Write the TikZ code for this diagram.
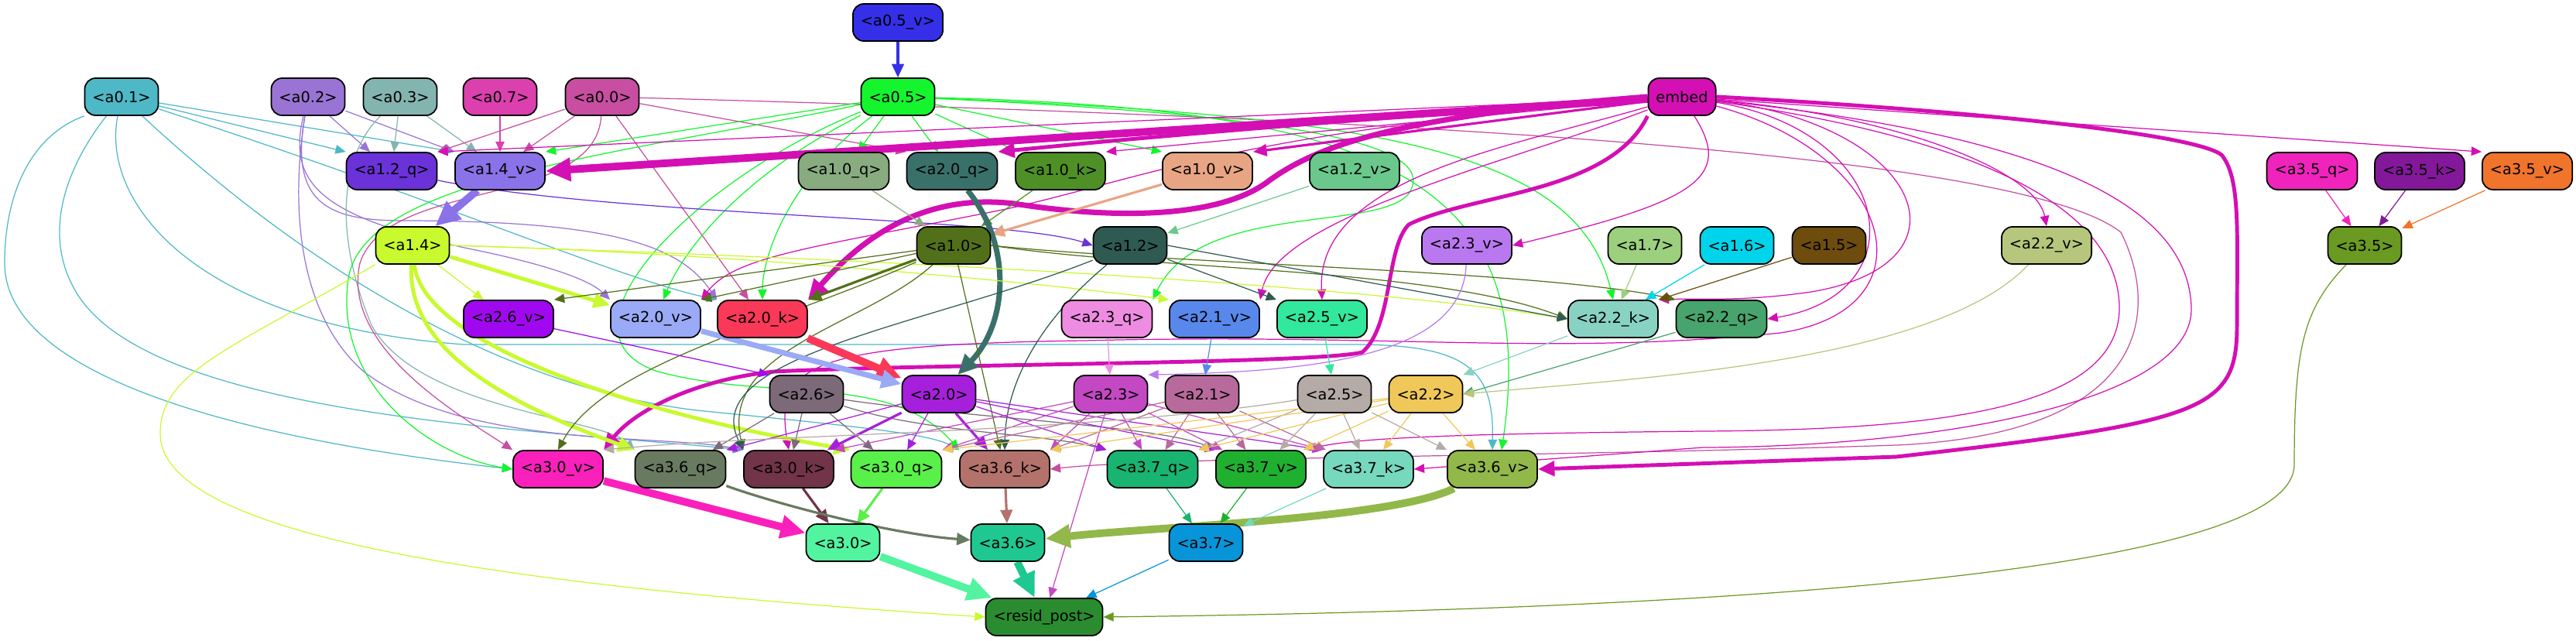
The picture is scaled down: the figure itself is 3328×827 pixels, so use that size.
\documentclass[tikz,border=0pt]{standalone}
\usepackage{fontspec}
\setmainfont{DejaVu Sans}
\usetikzlibrary{arrows.meta}
\pgfdeclarelayer{background}
\pgfsetlayers{background,main}

\definecolor{c05v}{HTML}{3530E8}
\definecolor{c01}{HTML}{4EB8C6}
\definecolor{c02}{HTML}{9A74D4}
\definecolor{c03}{HTML}{84B4B0}
\definecolor{c07}{HTML}{DC40AE}
\definecolor{c00}{HTML}{C74EA0}
\definecolor{c05}{HTML}{14F52E}
\definecolor{cemb}{HTML}{D40FB4}
\definecolor{c12q}{HTML}{6A32D8}
\definecolor{c14v}{HTML}{8A72E8}
\definecolor{c10q}{HTML}{88AC80}
\definecolor{c20q}{HTML}{3A706A}
\definecolor{c10k}{HTML}{4E9026}
\definecolor{c10v}{HTML}{E8A584}
\definecolor{c12v}{HTML}{6AC88C}
\definecolor{c35q}{HTML}{F024BC}
\definecolor{c35k}{HTML}{84189A}
\definecolor{c35v}{HTML}{F0742C}
\definecolor{c14}{HTML}{C8FA2E}
\definecolor{c10}{HTML}{52701A}
\definecolor{c12}{HTML}{2E5A52}
\definecolor{c23v}{HTML}{BA78F0}
\definecolor{c17}{HTML}{9CCF7E}
\definecolor{c16}{HTML}{00D4EA}
\definecolor{c15}{HTML}{6E4C0E}
\definecolor{c22v}{HTML}{B6C67C}
\definecolor{c35}{HTML}{6A9A22}
\definecolor{c26v}{HTML}{A008F0}
\definecolor{c20v}{HTML}{9AAAF6}
\definecolor{c20k}{HTML}{FA3858}
\definecolor{c23q}{HTML}{EE8CE2}
\definecolor{c21v}{HTML}{5888EC}
\definecolor{c25v}{HTML}{32E89C}
\definecolor{c22k}{HTML}{88D2C4}
\definecolor{c22q}{HTML}{46A46C}
\definecolor{c26}{HTML}{7C6A78}
\definecolor{c20}{HTML}{A620DC}
\definecolor{c23}{HTML}{C448C4}
\definecolor{c21}{HTML}{B86A9C}
\definecolor{c25}{HTML}{B4AAA6}
\definecolor{c22}{HTML}{F0C85A}
\definecolor{c30v}{HTML}{FA20BC}
\definecolor{c36q}{HTML}{687A60}
\definecolor{c30k}{HTML}{723448}
\definecolor{c30q}{HTML}{5AF04A}
\definecolor{c36k}{HTML}{B4726C}
\definecolor{c37q}{HTML}{18B470}
\definecolor{c37v}{HTML}{20B030}
\definecolor{c37k}{HTML}{76D8BC}
\definecolor{c36v}{HTML}{92B84A}
\definecolor{c30}{HTML}{52F4A0}
\definecolor{c36}{HTML}{1EC890}
\definecolor{c37}{HTML}{0894D8}
\definecolor{cres}{HTML}{2A8C2E}

\begin{document}
\begin{tikzpicture}[x=0.01cm,y=-0.01cm,every node/.style={font=\fontsize{5.5}{6.5}\selectfont},
    blk/.style={draw,line width=0.5pt,rounded corners=4pt,minimum height=0.48cm,inner xsep=0.1cm,inner ysep=0pt},
    lnk/.style={-{Triangle[length=3pt 2.2,width=2.6pt 2]},line width=0.35pt},
    lwa/.style={line width=0.9pt},lwb/.style={line width=1.4pt},
    lwc/.style={line width=2pt},lwd/.style={line width=2.8pt}]
                \useasboundingbox (0,0) rectangle (3328,827);
                % inputs
                \node[blk,fill=c05v] (a05v) at (1160,29) {<a0.5\_v>};
                \node[blk,fill=c01] (a01) at (157,125) {<a0.1>};
                \node[blk,fill=c02] (a02) at (398,125) {<a0.2>};
                \node[blk,fill=c03] (a03) at (517,125) {<a0.3>};
                \node[blk,fill=c07] (a07) at (646,125) {<a0.7>};
                \node[blk,fill=c00] (a00) at (778,125) {<a0.0>};
                \node[blk,fill=c05] (a05) at (1160,125) {<a0.5>};
                \node[blk,fill=cemb] (embed) at (2173,125) {embed};
                % layer 1
                \node[blk,fill=c12q] (a12q) at (506,221) {<a1.2\_q>};
                \node[blk,fill=c14v] (a14v) at (646,221) {<a1.4\_v>};
                \node[blk,fill=c10q] (a10q) at (1090,221) {<a1.0\_q>};
                \node[blk,fill=c20q] (a20q) at (1230,221) {<a2.0\_q>};
                \node[blk,fill=c10k] (a10k) at (1370,221) {<a1.0\_k>};
                \node[blk,fill=c10v] (a10v) at (1560,221) {<a1.0\_v>};
                \node[blk,fill=c12v] (a12v) at (1750,221) {<a1.2\_v>};
                \node[blk,fill=c35q] (a35q) at (2987,221) {<a3.5\_q>};
                \node[blk,fill=c35k] (a35k) at (3126,221) {<a3.5\_k>};
                \node[blk,fill=c35v] (a35v) at (3265,221) {<a3.5\_v>};
                \node[blk,fill=c14] (a14) at (533,317) {<a1.4>};
                \node[blk,fill=c10] (a10) at (1232,317) {<a1.0>};
                \node[blk,fill=c12] (a12) at (1460,317) {<a1.2>};
                \node[blk,fill=c23v] (a23v) at (1895,317) {<a2.3\_v>};
                \node[blk,fill=c17] (a17) at (2125,317) {<a1.7>};
                \node[blk,fill=c16] (a16) at (2244,317) {<a1.6>};
                \node[blk,fill=c15] (a15) at (2363,317) {<a1.5>};
                \node[blk,fill=c22v] (a22v) at (2644,317) {<a2.2\_v>};
                \node[blk,fill=c35] (a35) at (3055,317) {<a3.5>};
                % layer 2
                \node[blk,fill=c26v] (a26v) at (657,412) {<a2.6\_v>};
                \node[blk,fill=c20v] (a20v) at (847,412) {<a2.0\_v>};
                \node[blk,fill=c20k] (a20k) at (985,412) {<a2.0\_k>};
                \node[blk,fill=c23q] (a23q) at (1430,412) {<a2.3\_q>};
                \node[blk,fill=c21v] (a21v) at (1569,412) {<a2.1\_v>};
                \node[blk,fill=c25v] (a25v) at (1708,412) {<a2.5\_v>};
                \node[blk,fill=c22k] (a22k) at (2084,412) {<a2.2\_k>};
                \node[blk,fill=c22q] (a22q) at (2224,412) {<a2.2\_q>};
                \node[blk,fill=c26] (a26) at (1042,509) {<a2.6>};
                \node[blk,fill=c20] (a20) at (1213,509) {<a2.0>};
                \node[blk,fill=c23] (a23) at (1435,509) {<a2.3>};
                \node[blk,fill=c21] (a21) at (1553,509) {<a2.1>};
                \node[blk,fill=c25] (a25) at (1724,509) {<a2.5>};
                \node[blk,fill=c22] (a22) at (1842,509) {<a2.2>};
                % layer 3
                \node[blk,fill=c30v] (a30v) at (721,606) {<a3.0\_v>};
                \node[blk,fill=c36q] (a36q) at (879,606) {<a3.6\_q>};
                \node[blk,fill=c30k] (a30k) at (1019,606) {<a3.0\_k>};
                \node[blk,fill=c30q] (a30q) at (1158,606) {<a3.0\_q>};
                \node[blk,fill=c36k] (a36k) at (1298,606) {<a3.6\_k>};
                \node[blk,fill=c37q] (a37q) at (1489,606) {<a3.7\_q>};
                \node[blk,fill=c37v] (a37v) at (1629,606) {<a3.7\_v>};
                \node[blk,fill=c37k] (a37k) at (1768,606) {<a3.7\_k>};
                \node[blk,fill=c36v] (a36v) at (1928,606) {<a3.6\_v>};
                \node[blk,fill=c30] (a30) at (1089,701) {<a3.0>};
                \node[blk,fill=c36] (a36) at (1302,701) {<a3.6>};
                \node[blk,fill=c37] (a37) at (1558,701) {<a3.7>};
                \node[blk,fill=cres] (resid) at (1349,797) {<resid\_post>};

                \begin{pgfonlayer}{background}
                % a0.x
                \draw[lnk,lwa,c05v] (a05v) -- (a05);
                \draw[lnk,c01] (a01) -- (a12q.north west);
                \draw[lnk,c01] (a01) -- (a14v.north west);
                \draw[lnk,c01] (a01.south west) .. controls (40,175) and (6,250) .. (6,340) .. controls (6,470) and (250,560) .. (a30v.west);
                \draw[lnk,c01] (a01) .. controls (90,210) and (50,300) .. (100,380) .. controls (200,540) and (700,555) .. (a30k.north west);
                \draw[lnk,c01] (a01) .. controls (130,260) and (250,420) .. (600,445) -- (1750,445) .. controls (1900,445) and (1930,480) .. (a36v.north);
                \draw[lnk,c01] (a01) .. controls (400,350) and (650,500) .. (900,530) .. controls (1100,550) and (1200,560) .. (a36k.north west);
                \draw[lnk,c01] (a01) .. controls (600,270) and (800,360) .. (a20k.north west);
                \draw[lnk,c02] (a02) -- (a12q);
                \draw[lnk,c02] (a02) -- (a14v.north west);
                \draw[lnk,c02] (a02) .. controls (375,260) and (420,285) .. (520,285) .. controls (800,285) and (880,320) .. (a20k.north west);
                \draw[lnk,c02] (a02) .. controls (370,300) and (400,420) .. (470,480) .. controls (600,580) and (850,560) .. (a30k.north west);
                \draw[lnk,c02] (a02) .. controls (370,240) and (420,280) .. (600,320) .. controls (700,340) and (760,360) .. (a20v.north west);
                \draw[lnk,c03] (a03) -- (a12q);
                \draw[lnk,c03] (a03) -- ([xshift=-0.3cm]a14v.north);
                \draw[lnk,c03] (a03) .. controls (440,200) and (430,300) .. (480,420) .. controls (540,530) and (780,540) .. (a36q.north west);
                \draw[lnk,c07] (a07) -- (a14v);
                \draw[lnk,c00] (a00) -- (a12q.north east);
                \draw[lnk,c00] (a00) -- ([xshift=0.3cm]a14v.north);
                \draw[lnk,c00] (a00) -- (a20k);
                \draw[lnk,c00] (a00) -- (a20q.north west);
                \draw[lnk,c00] (a00) .. controls (770,270) and (500,230) .. (465,340) .. controls (440,450) and (600,540) .. (a30v.north west);
                \draw[lnk,c00] (a00) .. controls (1700,150) and (2600,190) .. (2740,300) .. controls (2790,400) and (2780,560) .. (2450,575) .. controls (2000,590) and (1500,590) .. (a36k.east);
                \draw[lnk,c05] (a05) -- (a14v.north east);
                \draw[lnk,c05] (a05) -- (a10q);
                \draw[lnk,c05] (a05) -- (a20q);
                \draw[lnk,c05] (a05) -- (a10k);
                \draw[lnk,c05] (a05) -- (a10v.north west);
                \draw[lnk,c05] (a05) .. controls (950,230) and (880,330) .. (a20v);
                \draw[lnk,c05] (a05) .. controls (1020,230) and (985,330) .. (a20k);
                \draw[lnk,c05] (a05) .. controls (800,200) and (470,230) .. (450,360) .. controls (430,500) and (560,590) .. (a30v.west);
                \draw[lnk,c05] (a05) .. controls (900,230) and (700,430) .. (850,480) .. controls (1000,520) and (1150,480) .. (a36k.north west);
                \draw[lnk,c05] (a05) .. controls (1700,150) and (1860,190) .. (1820,250) .. controls (1780,300) and (1550,260) .. (a23q.north east);
                \draw[lnk,c05] (a05) .. controls (1800,150) and (2040,200) .. (a22k.north);
                \draw[lnk,c05] (a05) .. controls (1800,140) and (1990,240) .. ([xshift=0.12cm]a36v.north);
                % embed
                \draw[lnk,lwd,cemb] (embed) -- (a14v.east);
                \draw[lnk,lwb,cemb] (embed) .. controls (1800,150) and (1500,175) .. (a20q.north east);
                \draw[lnk,lwc,cemb] (embed.west) .. controls (1800,150) and (1700,190) .. (1640,233) .. controls (1580,280) and (1450,285) .. (1310,263) .. controls (1200,250) and (1120,300) .. (a20k.north east);
                \draw[lnk,cemb] (embed) -- (a10k.north east);
                \draw[lnk,lwa,cemb] (embed) -- (a10v.north east);
                \draw[lnk,cemb] (embed) -- (a12q.north east);
                \draw[lnk,cemb] (embed) .. controls (1600,170) and (1480,230) .. (1300,270) .. controls (1050,320) and (950,330) .. (a20v.north east);
                \draw[lnk,lwb,cemb] (embed.south west) .. controls (2080,250) and (1900,250) .. (1820,290) .. controls (1790,320) and (1800,420) .. (1760,455) .. controls (1700,470) and (1200,470) .. (1000,480) .. controls (900,490) and (820,530) .. (a30v.north east);
                \draw[lnk,lwb,cemb] (embed.east) .. controls (2500,140) and (2830,170) .. (2870,200) .. controls (2895,230) and (2890,300) .. (2890,420) .. controls (2890,530) and (2850,545) .. (2450,590) -- (a36v.east);
                \draw[lnk,cemb] (embed) -- (a35v.north west);
                \draw[lnk,cemb] (embed) .. controls (2450,150) and (2630,220) .. (a22v.north);
                \draw[lnk,cemb] (embed) .. controls (2240,230) and (2190,260) .. (a23v.east);
                \draw[lnk,cemb] (embed) .. controls (1950,190) and (1700,230) .. (a25v.north);
                \draw[lnk,cemb] (embed) .. controls (1950,210) and (1650,280) .. (a21v.north east);
                \draw[lnk,cemb] (embed) .. controls (2450,170) and (2480,380) .. (a22q.east);
                \draw[lnk,cemb] (embed) .. controls (2480,160) and (2560,340) .. (2340,377) .. controls (2250,390) and (2200,385) .. (a22k.north east);
                \draw[lnk,cemb] (embed) .. controls (2450,200) and (2500,400) .. (2300,430) .. controls (2000,460) and (1800,430) .. (1400,440) .. controls (1050,445) and (1000,470) .. (a30k.north);
                \draw[lnk,cemb] (embed) .. controls (2500,170) and (2740,250) .. (2738,400) .. controls (2735,530) and (2500,555) .. (2200,557) .. controls (1900,560) and (1750,565) .. (a37v.north east);
                \draw[lnk,cemb] (embed) .. controls (2600,170) and (2830,250) .. (2831,400) .. controls (2830,520) and (2500,577) .. (2200,578) -- (a37k.east);
                % layer 1
                \draw[lnk,lwd,c14v] (a14v) -- (a14);
                \draw[lnk,c12q] (a12q) .. controls (800,280) and (1300,280) .. (a12.west);
                \draw[lnk,c12v] (a12v) -- (a12);
                \draw[lnk,c10q] (a10q) -- (a10);
                \draw[lnk,c10k] (a10k) -- (a10);
                \draw[lnk,lwa,c10v] (a10v) -- (a10);
                \draw[lnk,lwc,c20q] (a20q) .. controls (1310,320) and (1300,420) .. (a20);
                \draw[lnk,c35q] (a35q) -- (a35);
                \draw[lnk,c35k] (a35k) -- (a35);
                \draw[lnk,c35v] (a35v) -- (a35);
                \draw[lnk,c14] (a14) -- (a26v);
                \draw[lnk,lwb,c14] (a14) -- (a20v);
                \draw[lnk,lwb,c14] (a14) .. controls (545,440) and (800,530) .. (a30q.north west);
                \draw[lnk,lwb,c14] (a14) .. controls (525,450) and (650,520) .. (a36q.north west);
                \draw[lnk,c14] (a14.south west) .. controls (300,450) and (207,480) .. (207,560) .. controls (207,700) and (700,760) .. (resid.west);
                \draw[lnk,c14] (a14.east) .. controls (900,325) and (1300,360) .. (a21v.north west);
                \draw[lnk,c14] (a14.east) .. controls (1000,330) and (1700,360) .. (a22k.west);
                \draw[lnk,c10] (a10) -- (a26v.north east);
                \draw[lnk,c10] (a10) -- (a20v.north east);
                \draw[lnk,lwa,c10] (a10) -- (a20k.north east);
                \draw[lnk,c10] (a10) -- (a36k);
                \draw[lnk,c10] (a10.east) .. controls (1500,350) and (1850,345) .. (a22k.west);
                \draw[lnk,c10] (a10.east) .. controls (1500,340) and (2000,350) .. (a22q.north west);
                \draw[lnk,c10] (a10) .. controls (1000,420) and (780,470) .. (a30v.north);
                \draw[lnk,c10] (a10) .. controls (1120,420) and (930,450) .. (a30k.north west);
                \draw[lnk,c12] (a12) -- (a25v.north west);
                \draw[lnk,c12] (a12.east) -- (a22k.west);
                \draw[lnk,c12] (a12) .. controls (1360,400) and (1300,480) .. (a36k.north);
                \draw[lnk,c12] (a12) .. controls (1200,420) and (900,460) .. (a30k.north west);
                \draw[lnk,c17] (a17) -- (a22k);
                \draw[lnk,c16] (a16) -- (a22k);
                \draw[lnk,c15] (a15) -- (a22k.north east);
                % layer 2
                \draw[lnk,c23v] (a23v) .. controls (1890,460) and (1700,480) .. (a23.north east);
                \draw[lnk,c23q] (a23q) -- (a23);
                \draw[lnk,c21v] (a21v) -- (a21);
                \draw[lnk,c25v] (a25v) -- (a25);
                \draw[lnk,c26v] (a26v) -- (a26.north west);
                \draw[lnk,lwd,c20k] (a20k) -- (a20);
                \draw[lnk,lwc,c20v] (a20v) -- (a20);
                \draw[lnk,c22k] (a22k) -- (a22.north east);
                \draw[lnk,c22q] (a22q) -- (a22.east);
                \draw[lnk,c22v] (a22v) .. controls (2500,470) and (2100,490) .. (a22.east);
                \draw[lnk,c26] (a26) -- (a36q);
                \draw[lnk,c26] (a26) -- (a30k);
                \draw[lnk,c26] (a26) -- (a30q);
                \draw[lnk,c26] (a26) .. controls (1200,560) and (1350,560) .. (a37q.north west);
                \draw[lnk,c26] (a26) .. controls (1250,540) and (1500,550) .. (a37v.north west);
                \draw[lnk,lwa,c20] (a20) -- (a30k);
                \draw[lnk,c20] (a20) -- (a30q);
                \draw[lnk,lwa,c20] (a20) -- (a36k);
                \draw[lnk,c20] (a20) -- (a36q.north east);
                \draw[lnk,c20] (a20) -- (a37q.north west);
                \draw[lnk,c20] (a20) -- (a37v.north west);
                \draw[lnk,c20] (a20) -- (a37k.north west);
                \draw[lnk,c23] (a23) -- (a30q.north east);
                \draw[lnk,c23] (a23) -- (a36k.north east);
                \draw[lnk,c23] (a23) -- (a37q);
                \draw[lnk,c23] (a23) -- (a37v);
                \draw[lnk,c23] (a23) -- (a37k.north west);
                \draw[lnk,c23] (a23) -- (resid);
                \draw[lnk,c23] (a23) -- (a30k.north east);
                \draw[lnk,c21] (a21) -- (a37q);
                \draw[lnk,c21] (a21) -- (a37v);
                \draw[lnk,c21] (a21) -- (a37k);
                \draw[lnk,c21] (a21) -- (a36k.north east);
                \draw[lnk,c21] (a21) -- (a30q.north east);
                \draw[lnk,c25] (a25) .. controls (1400,560) and (1000,560) .. (a30v.north east);
                \draw[lnk,c25] (a25) -- (a37q.north east);
                \draw[lnk,c25] (a25) -- (a37v);
                \draw[lnk,c25] (a25) -- (a37k);
                \draw[lnk,c25] (a25) -- (a36v.north west);
                \draw[lnk,c22] (a22) -- (a37q.north east);
                \draw[lnk,c22] (a22) -- (a37v);
                \draw[lnk,c22] (a22) -- (a37k);
                \draw[lnk,c22] (a22) -- (a36v);
                \draw[lnk,c22] (a22) -- (a36k.north east);
                \draw[lnk,c22] (a22) -- (a30q.north east);
                % layer 3
                \draw[lnk,lwd,c30v] (a30v) -- (a30);
                \draw[lnk,lwa,c30k] (a30k) -- (a30);
                \draw[lnk,lwa,c30q] (a30q) -- (a30);
                \draw[lnk,lwa,c36q] (a36q) .. controls (1000,650) and (1150,690) .. (a36);
                \draw[lnk,lwa,c36k] (a36k) -- (a36);
                \draw[lnk,lwd,c36v] (a36v) .. controls (1800,670) and (1500,680) .. (a36);
                \draw[lnk,c37q] (a37q) -- (a37);
                \draw[lnk,c37v] (a37v) -- (a37);
                \draw[lnk,c37k] (a37k) -- (a37);
                % output
                \draw[lnk,lwd,c30] (a30) -- (resid);
                \draw[lnk,lwd,c36] (a36) -- (resid);
                \draw[lnk,c37] (a37) -- (resid);
                \draw[lnk,c35] (a35) .. controls (2975,400) and (2964,450) .. (2964,600) .. controls (2964,760) and (2000,790) .. (resid.east);
                \end{pgfonlayer}
            \end{tikzpicture}
\end{document}
